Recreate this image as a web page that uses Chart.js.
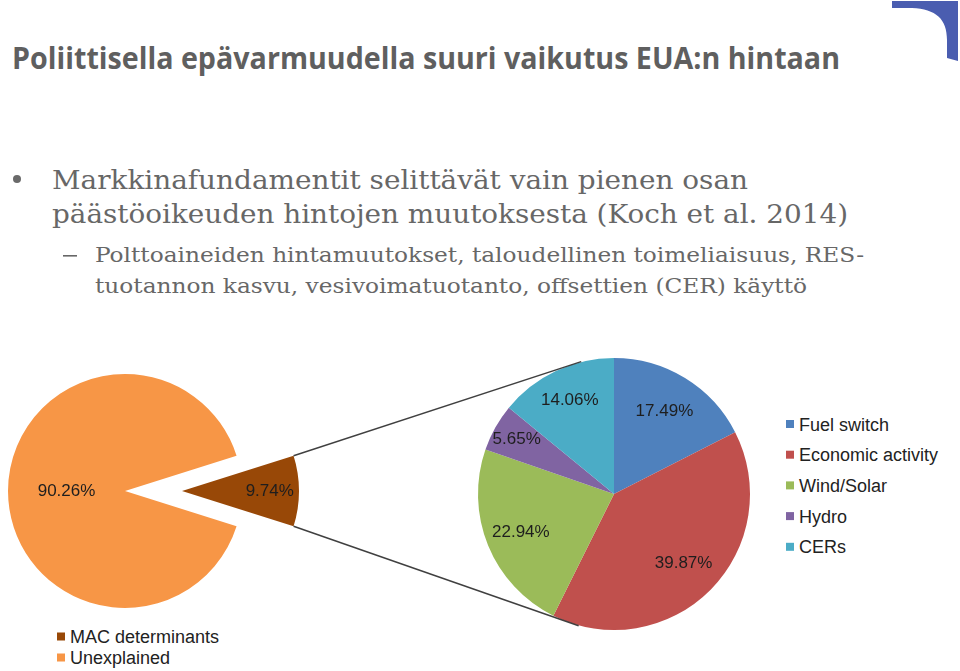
<!DOCTYPE html>
<html lang="fi">
<head>
<meta charset="utf-8">
<title>Poliittisella epävarmuudella suuri vaikutus EUA:n hintaan</title>
<script src="https://cdn.jsdelivr.net/npm/chart.js@4.4.1/dist/chart.umd.min.js"></script>
<style>
    html, body { margin: 0; padding: 0; background: #fff; }
    #slide { position: relative; width: 960px; height: 671px; overflow: hidden; }
    #slide svg { position: absolute; left: 0; top: 0; }
    #charts { position: absolute; left: 0; top: 340px; width: 770px; height: 331px; }
    #charts canvas { position: absolute; left: 0; top: 0; }
</style>
</head>
<body>
<div id="slide">
    <svg id="text-layer" width="960" height="671" xmlns="http://www.w3.org/2000/svg">
        <!-- corner decoration -->
        <path d="M892,1 L958,1 L958,61 L947,58 L947,40 C947,19 936,9 912,8 L892,8 Z" fill="#4a5db0"/>

        <text x="12" y="69" textLength="828" lengthAdjust="spacingAndGlyphs"
              font-family="'Open Sans', 'Liberation Sans', sans-serif" font-weight="bold" font-size="31" fill="#5f5f5f">Poliittisella epävarmuudella suuri vaikutus EUA:n hintaan</text>

        <circle cx="17" cy="179" r="4" fill="#6a6a6a"/>
        <g font-family="'DejaVu Serif Condensed', 'DejaVu Serif', 'Liberation Serif', serif" fill="#676767">
            <text x="52" y="189" font-size="26" textLength="696" lengthAdjust="spacingAndGlyphs">Markkinafundamentit selittävät vain pienen osan</text>
            <text x="52" y="223" font-size="26" textLength="796" lengthAdjust="spacingAndGlyphs">päästöoikeuden hintojen muutoksesta (Koch et al. 2014)</text>
            <rect x="63" y="255" width="14" height="1.6" fill="#676767"/>
            <text x="95" y="262" font-size="21" textLength="769" lengthAdjust="spacingAndGlyphs">Polttoaineiden hintamuutokset, taloudellinen toimeliaisuus, RES-</text>
            <text x="95" y="293" font-size="21" textLength="712" lengthAdjust="spacingAndGlyphs">tuotannon kasvu, vesivoimatuotanto, offsettien (CER) käyttö</text>
        </g>
        <g id="legend-outer"></g>
        <g id="legend-detail"></g>
    </svg>
    <div id="charts">
        <canvas id="outer-pie" width="770" height="331"></canvas>
        <canvas id="detail-pie" width="770" height="331"></canvas>
    </div>
</div>

<script>
// Chart data
const outerLabels = ['MAC determinants', 'Unexplained'];
const outerValues = [9.74, 90.26];

const detailLabels = ['Fuel switch', 'Economic activity', 'Wind/Solar', 'Hydro', 'CERs'];
const detailValues = [17.49, 39.87, 22.94, 5.65, 14.06];

// Colours
const outerColors = ['#984807', '#f79646'];
const detailColors = ['#4f81bd', '#c0504d', '#9bbb59', '#8064a2', '#4bacc6'];

const CANVAS_W = 770;
const CANVAS_H = 331;

// Padding that puts the pie centre at (cx, cy) inside the canvas
function padFor(cx, cy, half) {
    return {
        left: cx - half,
        right: CANVAS_W - cx - half,
        top: cy - half,
        bottom: CANVAS_H - cy - half
    };
}

// Draw slices pulled out along their middle angle
const explode = {
    id: 'explode',
    beforeDatasetDraw(chart, args, opts) {
        const ctx = chart.ctx;
        const shifts = opts.shift || [];
        args.meta.data.forEach((arc, i) => {
            const p = arc.getProps(['startAngle', 'endAngle'], true);
            const mid = (p.startAngle + p.endAngle) / 2;
            const s = shifts[i] || 0;
            ctx.save();
            ctx.translate(Math.cos(mid) * s, Math.sin(mid) * s);
            arc.draw(ctx, chart.chartArea);
            ctx.restore();
        });
        return false;
    }
};

// Percentage labels inside the slices
const sliceLabels = {
    id: 'sliceLabels',
    afterDatasetsDraw(chart, args, opts) {
        const ctx = chart.ctx;
        const values = chart.data.datasets[0].data;
        const shifts = (chart.options.plugins.explode && chart.options.plugins.explode.shift) || [];
        ctx.save();
        ctx.font = opts.font;
        ctx.fillStyle = opts.color;
        ctx.textAlign = 'center';
        ctx.textBaseline = 'middle';
        chart.getDatasetMeta(0).data.forEach((arc, i) => {
            const p = arc.getProps(['x', 'y', 'startAngle', 'endAngle', 'outerRadius'], true);
            const mid = (p.startAngle + p.endAngle) / 2;
            const r = (shifts[i] || 0) + p.outerRadius * opts.radius[i];
            ctx.fillText(values[i].toFixed(2) + '%', p.x + Math.cos(mid) * r, p.y + Math.sin(mid) * r);
        });
        ctx.restore();
    }
};

// Lines from the pulled-out slice to the detail pie
const fanLines = {
    id: 'fanLines',
    afterDatasetsDraw(chart, args, opts) {
        const src = Chart.getChart(opts.from);
        if (!src) return;
        const shift = src.options.plugins.explode.shift[opts.index] || 0;
        const a = src.getDatasetMeta(0).data[opts.index]
            .getProps(['x', 'y', 'startAngle', 'endAngle', 'outerRadius'], true);
        const mid = (a.startAngle + a.endAngle) / 2;
        const tipX = a.x + Math.cos(mid) * shift;
        const tipY = a.y + Math.sin(mid) * shift;
        const t = chart.getDatasetMeta(0).data[0].getProps(['x', 'y', 'outerRadius'], true);

        const ctx = chart.ctx;
        ctx.save();
        ctx.strokeStyle = opts.color;
        ctx.lineWidth = opts.width;
        [[a.startAngle, 1], [a.endAngle, -1]].forEach(([ang, side]) => {
            const px = tipX + Math.cos(ang) * a.outerRadius;
            const py = tipY + Math.sin(ang) * a.outerRadius;
            const d = Math.hypot(px - t.x, py - t.y);
            const phi = Math.atan2(py - t.y, px - t.x) + side * Math.acos(t.outerRadius / d);
            let qx = t.x + Math.cos(phi) * t.outerRadius;
            let qy = t.y + Math.sin(phi) * t.outerRadius;
            const len = Math.hypot(qx - px, qy - py);
            qx += (qx - px) / len * opts.extend;
            qy += (qy - py) / len * opts.extend;
            ctx.beginPath();
            ctx.moveTo(px, py);
            ctx.lineTo(qx, qy);
            ctx.stroke();
        });
        ctx.restore();
    }
};

// Legend built from the label arrays
function buildLegend(groupId, labels, colors, x, y, step, box) {
    const g = document.getElementById(groupId);
    const ns = 'http://www.w3.org/2000/svg';
    labels.forEach((label, i) => {
        const cy = y + i * step;
        const rect = document.createElementNS(ns, 'rect');
        rect.setAttribute('x', x);
        rect.setAttribute('y', cy - box / 2);
        rect.setAttribute('width', box);
        rect.setAttribute('height', box);
        rect.setAttribute('fill', colors[i]);
        g.appendChild(rect);

        const text = document.createElementNS(ns, 'text');
        text.setAttribute('x', x + box + 5);
        text.setAttribute('y', cy + 6.5);
        text.setAttribute('font-family', "'Liberation Sans', Arial, sans-serif");
        text.setAttribute('font-size', '18');
        text.setAttribute('fill', '#222');
        text.textContent = label;
        g.appendChild(text);
    });
}

const baseOptions = {
    responsive: false,
    animation: false,
    events: []
};

const outerTotal = outerValues.reduce((s, v) => s + v, 0);

new Chart(document.getElementById('outer-pie'), {
    type: 'pie',
    data: {
        labels: outerLabels,
        datasets: [{
            data: outerValues,
            backgroundColor: outerColors,
            borderWidth: 0
        }]
    },
    options: {
        ...baseOptions,
        radius: 117,
        // centre the first slice on the right-hand side
        rotation: 90 - (outerValues[0] / outerTotal) * 180,
        layout: { padding: padFor(125, 151, 120) },
        plugins: {
            legend: { display: false },
            tooltip: { enabled: false },
            explode: { shift: [57, 0] },
            sliceLabels: { font: '17px "Liberation Sans", Arial, sans-serif', color: '#1e1e1e', radius: [0.75, 0.5] }
        }
    },
    plugins: [explode, sliceLabels]
});

new Chart(document.getElementById('detail-pie'), {
    type: 'pie',
    data: {
        labels: detailLabels,
        datasets: [{
            data: detailValues,
            backgroundColor: detailColors,
            borderWidth: 0
        }]
    },
    options: {
        ...baseOptions,
        radius: 136,
        layout: { padding: padFor(614, 154, 140) },
        plugins: {
            legend: { display: false },
            tooltip: { enabled: false },
            sliceLabels: { font: '17px "Liberation Sans", Arial, sans-serif', color: '#1e1e1e', radius: [0.71, 0.72, 0.74, 0.82, 0.76] },
            fanLines: { from: 'outer-pie', index: 0, color: '#404040', width: 1.5, extend: 10 }
        }
    },
    plugins: [sliceLabels, fanLines]
});

buildLegend('legend-detail', detailLabels, detailColors, 786, 424, 30.7, 8);
buildLegend('legend-outer', outerLabels, outerColors, 57, 636.5, 21, 8);
</script>
</body>
</html>
